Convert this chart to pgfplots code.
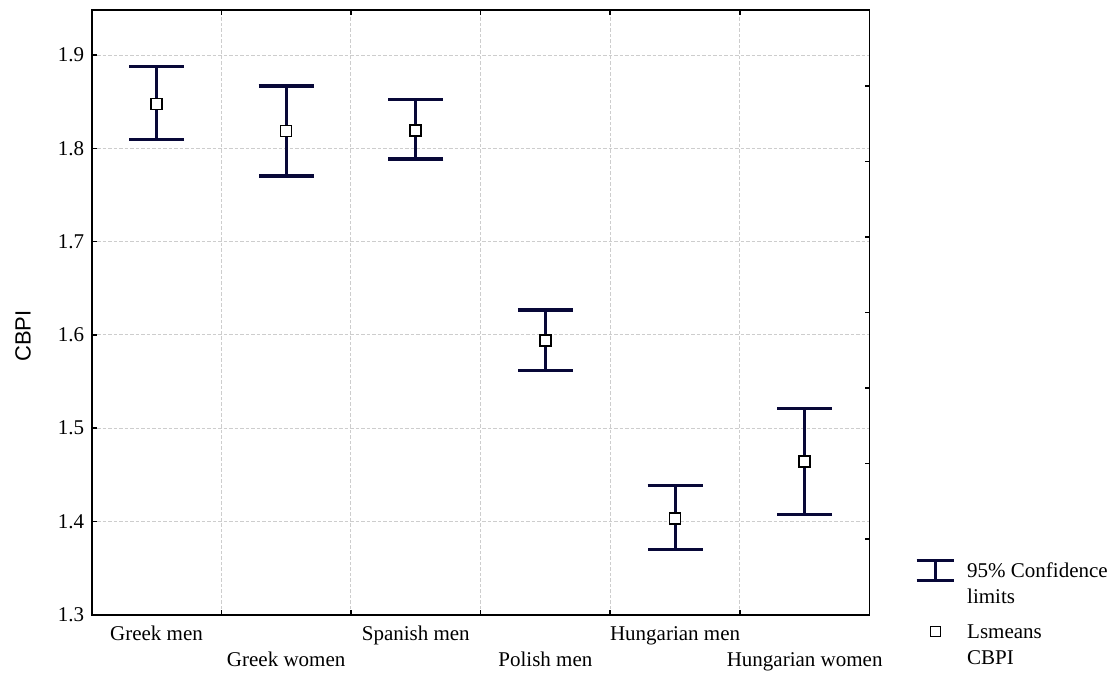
\documentclass[border=0pt]{standalone}
\usepackage{fontspec}
\setmainfont{Liberation Serif}
\setsansfont{Liberation Sans}
\usepackage{pgfplots}
\pgfplotsset{compat=1.18}
\usepackage{pgfplotstable}

\definecolor{barnavy}{RGB}{8,8,56}
\definecolor{gridgray}{RGB}{205,205,205}

% Least-squares means of CBPI with 95% confidence half-widths
\pgfplotstableread{
x  y      ep     em
0  1.8475 0.0401 0.0379
1  1.8186 0.0482 0.0483
2  1.8194 0.0326 0.0309
3  1.5941 0.0327 0.0324
4  1.4029 0.0354 0.0329
5  1.4640 0.0571 0.0562
}\cbpi

\begin{document}
\begin{tikzpicture}[font=\fontsize{21bp}{26bp}\selectfont]
\begin{axis}[
  scale only axis,
  width=777.8bp, height=604.4bp,
  xmin=-0.5, xmax=5.5,
  ymin=1.3, ymax=1.948,
  axis line style={line width=1.8bp, black},
  tick style={line width=1.5bp, black},
  major tick length=0bp,
  minor tick length=5bp,
  tick align=inside,
  xtick pos=both,
  ytick pos=left,
  xtick={0,2,4},
  xticklabels={Greek men, Spanish men, Hungarian men},
  extra x ticks={1,3,5},
  extra x tick labels={Greek women, Polish men, Hungarian women},
  extra x tick style={grid=none, xticklabel style={yshift=-26bp}},
  minor xtick={0.5,1.5,2.5,3.5,4.5},
  ytick={1.3,1.4,1.5,1.6,1.7,1.8,1.9},
  minor ytick={1.3,1.4,1.5,1.6,1.7,1.8,1.9},
  xminorgrids,
  ymajorgrids,
  major grid style={gridgray, dash pattern=on 3.5bp off 2bp, line width=1bp},
  minor grid style={gridgray, dash pattern=on 3.5bp off 2bp, line width=1bp},
  /pgf/number format/assume math mode=true,
  xticklabel style={yshift=-8bp},
  yticklabel style={xshift=-4bp, /pgf/number format/.cd, fixed, fixed zerofill, precision=1},
  ylabel={\fontsize{22bp}{26bp}\selectfont\sffamily CBPI},
  ylabel style={at={(axis description cs:-0.0883,0.461)}, anchor=center},
  legend cell align=left,
  legend style={at={(axis description cs:1.0585,0.093)}, anchor=north west,
    draw=none, fill=none, inner sep=0pt, row sep=19.5bp, column sep=12bp,
    nodes={inner sep=0pt, align=left}},
]
% confidence limits
\addplot[only marks, mark=none,
  legend image code/.code={
    \draw[barnavy, line width=3bp]
      (0bp,3.2bp) -- (37bp,3.2bp)
      (0bp,23.8bp) -- (37bp,23.8bp)
      (18.5bp,3.2bp) -- (18.5bp,23.8bp);},
  error bars/.cd, y dir=both, y explicit,
  error bar style={draw=barnavy, line width=3bp},
  error mark options={rotate=90, draw=barnavy, line width=3.3bp, mark size=27.5bp}]
  table[x=x, y=y, y error plus=ep, y error minus=em]{\cbpi};
\addlegendentry{95\% Confidence\\limits}
% least-squares means
\addplot[only marks, mark=square*, mark size=5.5bp,
  mark options={draw=black, fill=white, line width=1.6bp},
  legend image code/.code={
    \draw[black, fill=white, line width=1.3bp]
      (13.5bp,8.5bp) rectangle (23.5bp,18.5bp);}]
  table[x=x, y=y]{\cbpi};
\addlegendentry{Lsmeans\\CBPI}
\end{axis}
% right-hand frame ticks at eighths of the height
\begin{axis}[
  scale only axis,
  width=777.8bp, height=604.4bp,
  xmin=0, xmax=1, ymin=0, ymax=8,
  hide x axis,
  axis y line*=right,
  ytick={1,2,3,4,5,6,7},
  yticklabels={},
  major tick length=5bp,
  tick align=inside,
  axis line style={line width=1.8bp, black},
  tick style={line width=1.5bp, black},
]
\end{axis}
\pgfresetboundingbox
\path[use as bounding box] (-91.7bp,-65.3bp) rectangle (1024.3bp,614.7bp);
\end{tikzpicture}
\end{document}
